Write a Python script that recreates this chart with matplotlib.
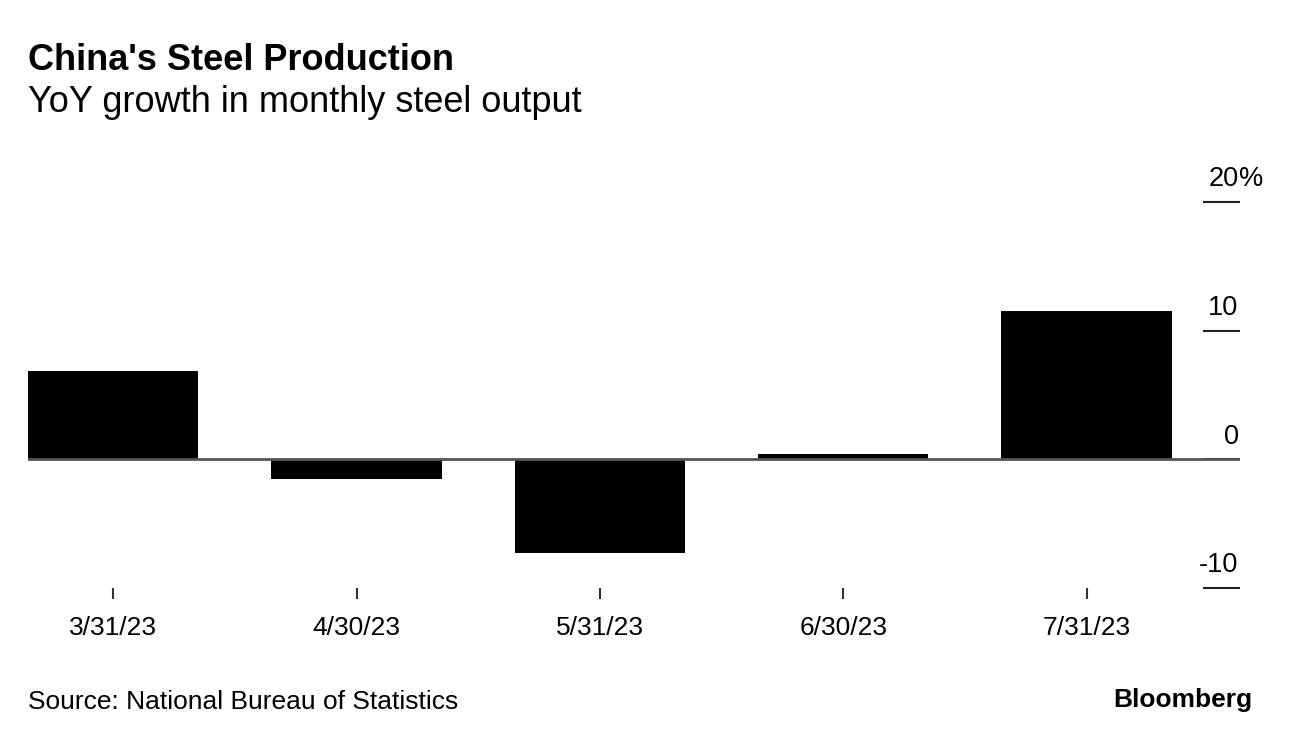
import matplotlib.pyplot as plt

dates = ['3/31/23', '4/30/23', '5/31/23', '6/30/23', '7/31/23']
growth = [6.9, -1.5, -7.3, 0.4, 11.5]
y_ticks = [-10, 0, 10, 20]
y_labels = ['-10', '0', '10', '20']

plt.rcParams['font.family'] = ['Liberation Sans', 'DejaVu Sans']

fig = plt.figure(figsize=(12.92, 7.44), dpi=100)
ax = fig.add_axes([28 / 1292, 156 / 744, (1240 - 28) / 1292, (588 - 202) / 744])

x = list(range(len(growth)))
ax.bar(x, growth, width=0.7, color='black', zorder=2)
ax.axhline(0, color='#555555', lw=2, zorder=3)

ax.set_xlim(-0.35, 4.63)
ax.set_ylim(-10, 20)

for s in ax.spines.values():
    s.set_visible(False)

ax.set_xticks(x)
ax.set_xticklabels(dates, fontsize=19)
ax.tick_params(axis='x', length=8, width=1.5, color='#333333', pad=12)

ax.set_yticks(y_ticks)
ax.set_yticklabels([])
ax.yaxis.tick_right()
ax.tick_params(axis='y', direction='in', length=27, width=1.5, color='#222222')
for v, lab in zip(y_ticks, y_labels):
    ax.annotate(lab, xy=(1.0, v), xycoords=('axes fraction', 'data'),
                xytext=(-1, 7), textcoords='offset points',
                ha='right', va='bottom', fontsize=19.5)
# percent sign hangs to the right of the top label
ax.annotate('%', xy=(1.0, y_ticks[-1]), xycoords=('axes fraction', 'data'),
            xytext=(-1, 7), textcoords='offset points',
            ha='left', va='bottom', fontsize=19.5)

fig.text(28 / 1292, 1 - 61 / 744, "China's Steel Production", fontsize=26,
         fontweight='bold', va='center', ha='left')
fig.text(28 / 1292, 1 - 103 / 744, 'YoY growth in monthly steel output',
         fontsize=26, va='center', ha='left')
fig.text(28 / 1292, 1 - 702 / 744, 'Source: National Bureau of Statistics',
         fontsize=19, va='center', ha='left')
fig.text(1252 / 1292, 1 - 700 / 744, 'Bloomberg', fontsize=19,
         fontweight='bold', va='center', ha='right')

fig.savefig('out.png', dpi=100)
